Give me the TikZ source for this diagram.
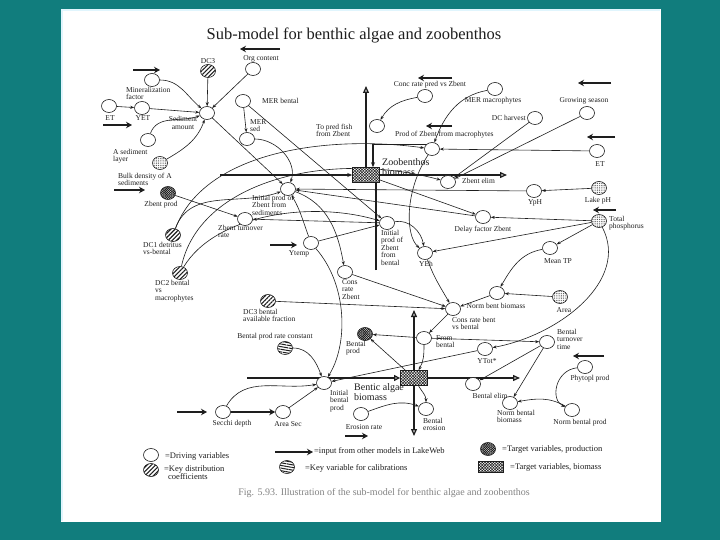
\documentclass[tikz,border=0pt]{standalone}
\usepackage{fontspec}
\setmainfont{Liberation Serif}
\usetikzlibrary{positioning,arrows.meta,shapes.geometric,patterns.meta,backgrounds}
\definecolor{frame}{HTML}{117D7D}
\definecolor{ink}{HTML}{1E1E1E}
\tikzset{
  drive/.style={ellipse, draw=ink, fill=white, line width=0.6pt,
                minimum width=15pt, minimum height=13pt, inner sep=0pt},
  dcvar/.style={drive, preaction={fill=white}, pattern color=ink,
                pattern={Lines[angle=45,distance=3pt,line width=1.1pt]}},
  calvar/.style={drive, preaction={fill=white}, pattern color=ink,
                 pattern={Lines[angle=-10,distance=2.6pt,line width=1pt]}},
  prodvar/.style={drive, preaction={fill=white}, pattern color=ink,
                  pattern={Hatch[angle=45,distance=1.6pt,line width=0.7pt]}},
  ptvar/.style={drive, preaction={fill=white}, pattern color=ink,
                pattern={Dots[distance=1.8pt,radius=0.45pt]}},
  stock/.style={rectangle, draw=ink, line width=0.8pt, preaction={fill=white},
                pattern color=ink, pattern={Hatch[angle=45,distance=2pt,line width=0.55pt]},
                minimum width=27pt, minimum height=15pt, inner sep=0pt},
  lbl/.style={font=\fontsize{7.5}{7.5}\selectfont, text=ink, align=left, inner sep=0pt},
  bigtext/.style={font=\fontsize{10}{10}\selectfont, text=ink, align=left, inner sep=0pt},
  keytext/.style={font=\fontsize{8.5}{8.5}\selectfont, text=ink, align=left, inner sep=0pt, anchor=west},
  link/.style={draw=ink, line width=0.6pt, -{Stealth[length=4pt,width=3pt]}},
  flowl/.style={draw=ink, line width=1.3pt},
  inarr/.style={draw=ink, line width=2.4pt, -{Stealth[length=6pt,width=6.5pt]}}
}
\begin{document}
\begin{tikzpicture}[x=1pt,y=-1pt]
\useasboundingbox (0,0) rectangle (720,540);
\begin{scope}[on background layer]
  \fill[frame] (0,0) rectangle (720,540);
  \fill[white] (61,9) rectangle (661,522);
  \draw[cyan!12, line width=2pt] (62,521) -- (62,10) -- (660,10);
\end{scope}

\node[font=\fontsize{16.5}{16.5}\selectfont, text=ink] (title) at (354,35) {Sub-model for benthic algae and zoobenthos};

% sediment side
\node[dcvar] (dcthree) at (208,71) {};
\node[lbl] (t-dcthree) at (208,61) {DC3};
\node[drive] (orgc) at (253,69) {};
\node[lbl] (t-orgc) at (261,59) {Org content};
\node[drive] (minf) at (152,80) {};
\node[lbl, anchor=north west] (t-minf) at (126,87) {Mineralization\\factor};
\node[drive] (et) at (109,106) {};
\node[lbl] (t-et) at (110,118) {ET};
\node[drive] (yet) at (142,108) {};
\node[lbl] (t-yet) at (143,118) {YET};
\node[drive] (sedam) at (207,113) {};
\node[lbl, align=center] (t-sedam) at (183,123) {Sediment\\amount};
\node[drive] (merb) at (243,101) {};
\node[lbl, anchor=west] (t-merb) at (262,101) {MER bental};
\node[drive] (mers) at (247,139) {};
\node[lbl, anchor=south west] (t-mers) at (250,132) {MER\\sed};
\node[drive] (aslay) at (148,140) {};
\node[lbl, anchor=north west] (t-aslay) at (113,149) {A sediment\\layer};
\node[ptvar] (bulk) at (160,163) {};
\node[lbl, anchor=north west] (t-bulk) at (118,173) {Bulk density of A\\sediments};
\node[prodvar] (zprod) at (168,193) {};
\node[lbl] (t-zprod) at (161,205) {Zbent prod};
\node[dcvar] (dcone) at (173,235) {};
\node[lbl, anchor=north west] (t-dcone) at (143,242) {DC1 detritus\\vs-bental};
\node[dcvar] (dctwo) at (180,273) {};
\node[lbl, anchor=north west] (t-dctwo) at (155,280) {DC2 bental\\vs\\macrophytes};
\node[drive] (zturn) at (245,219) {};
\node[lbl, anchor=north west] (t-zturn) at (218,225) {Zbent turnover\\rate};
\node[drive] (izsed) at (288,189) {};
\node[lbl, anchor=north west] (t-izsed) at (252,195) {Initial prod of\\Zbent from\\sediments};
\node[drive] (ytemp) at (311,243) {};
\node[lbl] (t-ytemp) at (299,254) {Ytemp};

% zoobenthos
\node[stock] (zoob) at (366,175) {};
\node[bigtext, anchor=north west] (t-zoob) at (382,158) {Zoobenthos\\biomass};
\node[drive] (tpfish) at (377,126) {};
\node[lbl, anchor=north west] (t-tpfish) at (316,124) {To pred fish\\from Zbent};
\node[drive] (crpred) at (425,96) {};
\node[lbl] (t-crpred) at (430,85) {Conc rate pred vs Zbent};
\node[drive] (pzmac) at (432,149) {};
\node[lbl, anchor=west] (t-pzmac) at (395,135) {Prod of Zbent from macrophytes};
\node[drive] (mermac) at (495,89) {};
\node[lbl] (t-mermac) at (493,101) {MER macrophytes};
\node[drive] (dcharv) at (535,118) {};
\node[lbl, anchor=east] (t-dcharv) at (526,118) {DC harvest};
\node[drive] (grow) at (587,113) {};
\node[lbl] (t-grow) at (584,101) {Growing season};
\node[drive] (etr) at (597,151) {};
\node[lbl] (t-etr) at (600,164) {ET};
\node[drive] (zelim) at (448,182) {};
\node[lbl, anchor=west] (t-zelim) at (462,181) {Zbent elim};
\node[drive] (yph) at (534,191) {};
\node[lbl] (t-yph) at (535,203) {YpH};
\node[ptvar] (lakeph) at (599,188) {};
\node[lbl] (t-lakeph) at (598,201) {Lake pH};
\node[drive] (delay) at (483,217) {};
\node[lbl] (t-delay) at (483,230) {Delay factor Zbent};
\node[ptvar] (tp) at (599,221) {};
\node[lbl, anchor=north west] (t-tp) at (609,216) {Total\\phosphorus};
\node[drive] (izbent) at (387,223) {};
\node[lbl, anchor=north west] (t-izbent) at (381,230) {Initial\\prod of\\Zbent\\from\\bental};
\node[drive] (yeh) at (425,253) {};
\node[lbl] (t-yeh) at (426,264) {YEh};
\node[drive] (meantp) at (550,248) {};
\node[lbl] (t-meantp) at (558,261) {Mean TP};
\node[drive] (crzb) at (345,272) {};
\node[lbl, anchor=north west] (t-crzb) at (342,279) {Cons\\rate\\Zbent};

% benthic algae
\node[drive] (nbb) at (497,293) {};
\node[lbl] (t-nbb) at (496,306) {Norm bent biomass};
\node[ptvar] (area) at (560,297) {};
\node[lbl] (t-area) at (564,310) {Area};
\node[drive] (crbb) at (453,309) {};
\node[lbl, anchor=north west] (t-crbb) at (452,317) {Cons rate bent\\vs bental};
\node[dcvar] (dcthreeb) at (268,301) {};
\node[lbl, anchor=north west] (t-dcthreeb) at (243,309) {DC3 bental\\available fraction};
\node[calvar] (bprc) at (285,348) {};
\node[lbl] (t-bprc) at (275,337) {Bental prod rate constant};
\node[prodvar] (bprod) at (365,334) {};
\node[lbl, anchor=north west] (t-bprod) at (346,341) {Bental\\prod};
\node[drive] (fromb) at (424,338) {};
\node[lbl, anchor=north west] (t-fromb) at (436,335) {From\\bental};
\node[drive] (ytot) at (485,349) {};
\node[lbl] (t-ytot) at (487,361) {YTot*};
\node[drive] (bturn) at (547,342) {};
\node[lbl, anchor=north west] (t-bturn) at (557,329) {Bental\\turnover\\time};
\node[drive] (phyt) at (585,367) {};
\node[lbl] (t-phyt) at (590,379) {Phytopl prod};
\node[stock] (algae) at (414,378) {};
\node[bigtext, anchor=north west] (t-algae) at (354,383) {Bentic algae\\biomass};
\node[drive] (ibp) at (324,383) {};
\node[lbl, anchor=north west] (t-ibp) at (330,390) {Initial\\bental\\prod};
\node[drive] (secchi) at (223,412) {};
\node[lbl] (t-secchi) at (232,424) {Secchi depth};
\node[drive] (asec) at (283,412) {};
\node[lbl] (t-asec) at (288,424) {Area Sec};
\node[drive] (erate) at (361,414) {};
\node[lbl] (t-erate) at (364,427) {Erosion rate};
\node[drive] (beros) at (426,409) {};
\node[lbl, anchor=north west] (t-beros) at (423,418) {Bental\\erosion};
\node[drive] (belim) at (473,384) {};
\node[lbl] (t-belim) at (490,396) {Bental elim};
\node[drive] (nbbio) at (510,403) {};
\node[lbl, anchor=north west] (t-nbbio) at (497,410) {Norm bental\\biomass};
\node[drive] (nbp) at (572,410) {};
\node[lbl] (t-nbp) at (580,423) {Norm bental prod};

% legend
\node[drive] (k-drive) at (151,455) {};
\node[keytext] (t-kdrive) at (165,456) {=Driving variables};
\node[dcvar] (k-dc) at (151,470) {};
\node[keytext, anchor=north west] (t-kdc) at (164,465) {=Key distribution\\\hspace*{4pt}coefficients};
\node[calvar] (k-cal) at (287,467) {};
\node[keytext] (t-kcal) at (305,468) {=Key variable for calibrations};
\node[keytext] (t-kin) at (314,451) {=input from other models in LakeWeb};
\node[prodvar] (k-prod) at (488,449) {};
\node[keytext] (t-kprod) at (502,449) {=Target variables, production};
\node[stock, minimum width=25pt, minimum height=11pt] (k-bio) at (491,467) {};
\node[keytext] (t-kbio) at (510,467) {=Target variables, biomass};
\node[font=\fontsize{10}{10}\selectfont, text=ink!55] (caption) at (384,493)
  {Fig. 5.93. Illustration of the sub-model for benthic algae and zoobenthos};

% free ends of input arrows and flows
\coordinate (in-org) at (280,49);    \coordinate (out-org) at (240,49);
\coordinate (in-minf) at (133,70);   \coordinate (out-minf) at (160,70);
\coordinate (in-et) at (103,125);    \coordinate (out-et) at (132,125);
\coordinate (in-bulk) at (114,190);  \coordinate (out-bulk) at (145,190);
\coordinate (in-ytemp) at (270,245); \coordinate (out-ytemp) at (297,245);
\coordinate (in-crpred) at (452,78); \coordinate (out-crpred) at (418,78);
\coordinate (in-pzmac) at (452,126); \coordinate (out-pzmac) at (426,126);
\coordinate (in-grow) at (611,83);   \coordinate (out-grow) at (578,83);
\coordinate (in-etr) at (615,137);   \coordinate (out-etr) at (587,137);
\coordinate (in-tp) at (616,210);    \coordinate (out-tp) at (593,210);
\coordinate (in-phyt) at (604,356);  \coordinate (out-phyt) at (573,356);
\coordinate (in-secchi) at (177,412);\coordinate (out-secchi) at (207,412);
\coordinate (in-erate) at (345,436); \coordinate (out-erate) at (368,436);
\coordinate (in-key) at (275,452);   \coordinate (out-key) at (313,452);
\coordinate (zin) at (220,175);  \coordinate (zout) at (366,86);
\coordinate (zr) at (507,175);   \coordinate (zbot) at (376,270);
\coordinate (ain) at (247,378);  \coordinate (aup) at (414,310);
\coordinate (adown) at (414,436); \coordinate (ar) at (520,378);

\begin{scope}[on background layer]
\foreach \n in {org,minf,et,bulk,ytemp,crpred,pzmac,grow,etr,tp,phyt,secchi,erate,key}
  \draw[inarr] (in-\n) -- (out-\n);

% flows
\draw[flowl, -{Stealth[length=5pt,width=4pt]}] (zin) -- (zoob);
\draw[flowl, -{Triangle[open,length=7pt,width=6pt]}] (zoob) -- (zout);
\draw[flowl, -{Triangle[open,length=7pt,width=6pt]}] (zoob) -- (zr);
\draw[flowl] (zbot) -- (zbot |- zoob.south);
\draw[flowl, -{Stealth[length=5pt,width=4pt]}] (pzmac.north west) -| ([xshift=7pt]zoob.north);
\draw[flowl, -{Triangle[open,length=6pt,width=6pt]}] (ain) -- (algae);
\draw[flowl, -{Triangle[open,length=7pt,width=6pt]}] (algae) -- (aup);
\draw[flowl, -{Triangle[open,length=7pt,width=6pt]}] (algae) -- (adown);
\draw[flowl, -{Triangle[open,length=7pt,width=6pt]}] (algae) -- (ar);

% sediment links
\draw[link] (orgc) -- (sedam);
\draw[link] (dcthree) -- (sedam);
\draw[link] (minf) to[out=0,in=140] (sedam);
\draw[link] (yet) -- (sedam);
\draw[link] (et) -- (yet);
\draw[link] (aslay) to[out=70,in=200] (sedam);
\draw[link] (bulk) to[out=30,in=250] (sedam);
\draw[link] (merb) -- (mers);
\draw[link] (mers) to[out=0,in=70] (izsed);
\draw[link] (sedam) -- (izsed);
\draw[link] (merb) -- (izbent);
\draw[link] (zprod) -- (zturn);
\draw[link] (izbent) -- (zturn);
\draw[link] (ytemp) to[out=110,in=-60] (izsed);
\draw[link] (ytemp) -- (izbent);
\draw[link] (izsed) to[out=-20,in=100] (crzb);
\draw[link] (ytemp) .. controls (348,285) and (348,345) .. (ibp);
\draw[link] (dcone) to[out=70,in=200] (izsed);
\draw[link] (dcone) .. controls (205,150) and (330,135) .. (pzmac);
\draw[link] (dctwo) .. controls (215,215) and (310,200) .. (izbent);
\draw[link] (dctwo) .. controls (200,180) and (330,150) .. (zelim);
\draw[link] (delay) -- (izsed);
\draw[link] (yph) -- (izsed);
\draw[link] (zoob) -- (delay);
\draw[link] (tp) -- (delay);

% zoobenthos links
\draw[link] (crpred) to[out=190,in=60] (tpfish);
\draw[link] (mermac) to[out=190,in=70] (pzmac);
\draw[link] (etr) -- (pzmac);
\draw[link] (dcharv) -- (zelim);
\draw[link] (grow) -- (zelim);
\draw[link] (lakeph) -- (yph);
\draw[link] (pzmac) .. controls (405,190) and (405,235) .. (yeh);
\draw[link] (izbent) to[out=10,in=100] (yeh);
\draw[link] (tp) -- (yeh);

% algae links
\draw[link] (yeh) to[out=-70,in=120] (crbb);
\draw[link] (crzb) -- (crbb);
\draw[link] (dcthreeb) -- (crbb);
\draw[link] (nbb) to[out=200,in=20] (crbb);
\draw[link] (area) -- (nbb);
\draw[link] (meantp) to[out=190,in=60] (nbb);
\draw[link] (tp) -- (meantp);
\draw[link] (tp) .. controls (630,280) and (560,335) .. (ytot);
\draw[link] (crbb) -- (fromb);
\draw[link] (fromb) -- (bprod);
\draw[link] (fromb) -- (bturn);
\draw[link] (fromb) to[out=-90,in=60] (algae);
\draw[link] (algae) -- (bprod);
\draw[link] (ytot) -- (ibp);
\draw[link] (bprc) to[out=0,in=110] (ibp);
\draw[link] (secchi) to[out=60,in=190] (ibp);
\draw[link] (asec) -- (ibp);
\draw[inarr] (secchi) -- (asec);
\draw[link] (erate) to[out=20,in=160] (beros);
\draw[link] (algae) to[out=-60,in=90] (beros);
\draw[link] (bturn) -- (belim);
\draw[link] (bturn) -- (nbbio);
\draw[link] (nbp) to[out=150,in=10] (nbbio);
\draw[link] (phyt) .. controls (555,370) and (550,400) .. (nbp);
\end{scope}
\end{tikzpicture}
\end{document}
